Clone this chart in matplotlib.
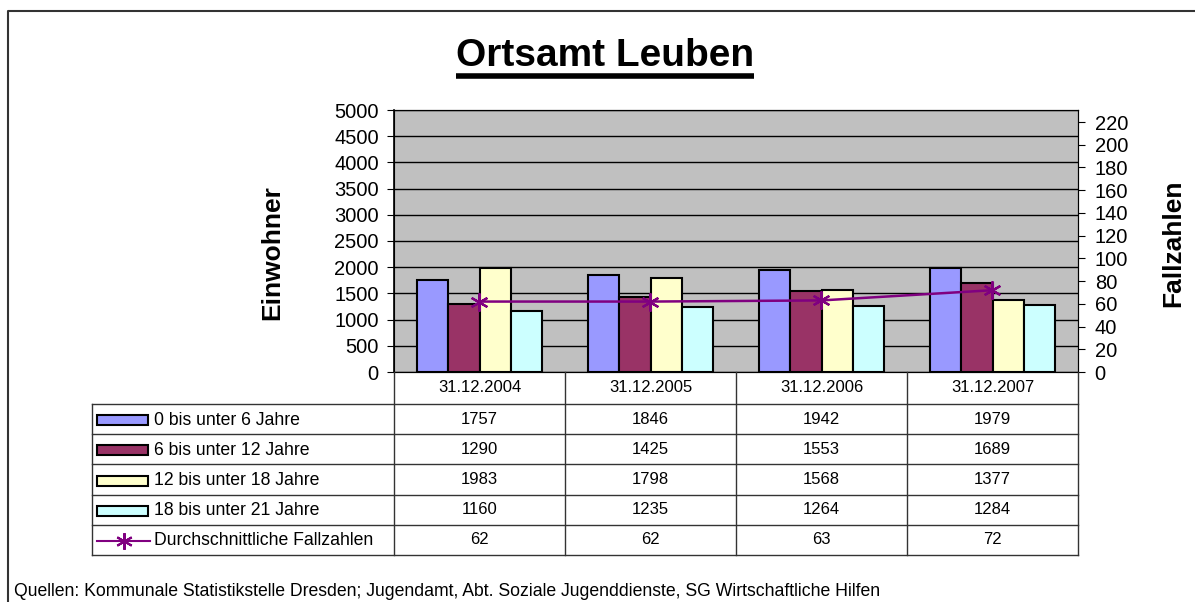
import numpy as np
import matplotlib.pyplot as plt
from matplotlib.patches import Rectangle

plt.rcParams['font.family'] = ['Liberation Sans', 'DejaVu Sans']

# data
stichtage = ['31.12.2004', '31.12.2005', '31.12.2006', '31.12.2007']
gruppen = ['0 bis unter 6 Jahre', '6 bis unter 12 Jahre',
           '12 bis unter 18 Jahre', '18 bis unter 21 Jahre']
ew_0_6 = [1757, 1846, 1942, 1979]
ew_6_12 = [1290, 1425, 1553, 1689]
ew_12_18 = [1983, 1798, 1568, 1377]
ew_18_21 = [1160, 1235, 1264, 1284]
fall_name = 'Durchschnittliche Fallzahlen'
fallzahlen = [62, 62, 63, 72]

farben = ['#9999FF', '#993366', '#FFFFCC', '#CCFFFF']
linie = '#800080'

W, H = 1195, 602
fig = plt.figure(figsize=(W / 100, H / 100), dpi=100)

# plot area in pixels
px0, px1, py0, py1 = 394, 1078, 110, 372
ax = fig.add_axes([px0 / W, 1 - py1 / H, (px1 - px0) / W, (py1 - py0) / H])
ax.set_facecolor('#C0C0C0')

werte = [ew_0_6, ew_6_12, ew_12_18, ew_18_21]
x = np.arange(len(stichtage)) + 0.5
bw = 0.184
for i, (vals, col) in enumerate(zip(werte, farben)):
    ax.bar(x + (i - 1.5) * bw, vals, bw, color=col, edgecolor='black',
           linewidth=1.5, zorder=3)

ax.set_xlim(0, len(stichtage))
ax.set_ylim(0, 5000)
ax.set_yticks(np.arange(0, 5001, 500))
ax.set_xticks([])
ax.yaxis.grid(True, color='black', linewidth=1)
ax.set_axisbelow(True)
ax.tick_params(axis='y', direction='out', length=5, pad=6, labelsize=14.5)
for s in ax.spines.values():
    s.set_color('black')
ax.spines['left'].set_linewidth(1.2)

ax2 = ax.twinx()
ax2.plot(x, fallzahlen, color=linie, linewidth=1.8, marker=(6, 2, 0),
         markersize=13, markeredgewidth=1.6, zorder=5)
ax2.set_ylim(0, 230.6)
ax2.set_yticks(np.arange(0, 221, 20))
ax2.tick_params(axis='y', direction='out', length=5, pad=7, labelsize=14.5)
for s in ax2.spines.values():
    s.set_color('black')

fig.text(272 / W, 1 - 253 / H, 'Einwohner', rotation=90, fontsize=19,
         fontweight='bold', ha='center', va='center')
fig.text(1173 / W, 1 - 243 / H, 'Fallzahlen', rotation=90, fontsize=19,
         fontweight='bold', ha='center', va='center')

# overlay for table, title underline and frame (pixel coords)
tax = fig.add_axes([0, 0, 1, 1])
tax.set_xlim(0, W)
tax.set_ylim(H, 0)
tax.axis('off')
tax.patch.set_alpha(0)

titel = tax.text(605, 56, 'Ortsamt Leuben', fontsize=28, fontweight='bold',
                 ha='center', va='center')
fig.canvas.draw()
bb = titel.get_window_extent().transformed(tax.transData.inverted())
tax.plot([bb.x0, bb.x1], [76, 76], color='black', linewidth=4,
         solid_capstyle='butt')

# table
tl = 92
col_x = np.linspace(px0, px1, len(stichtage) + 1)
row_y = np.linspace(404, 555, 6)
lc = '#333333'
for yy in row_y:
    tax.plot([tl, px1], [yy, yy], color=lc, linewidth=1)
tax.plot([tl, tl], [row_y[0], row_y[-1]], color=lc, linewidth=1)
for xx in col_x:
    tax.plot([xx, xx], [py1, row_y[-1]], color=lc, linewidth=1)

cx = (col_x[:-1] + col_x[1:]) / 2
for c, d in zip(cx, stichtage):
    tax.text(c, 388, d, fontsize=12, ha='center', va='center')

rows = werte + [fallzahlen]
names = gruppen + [fall_name]
for r, (vals, name) in enumerate(zip(rows, names)):
    yc = (row_y[r] + row_y[r + 1]) / 2
    for c, v in zip(cx, vals):
        tax.text(c, yc, str(v), fontsize=12, ha='center', va='center')
    if r < len(farben):
        tax.add_patch(Rectangle((97, yc - 4), 51, 10, facecolor=farben[r],
                                edgecolor='black', linewidth=1.5))
    else:
        tax.plot([97, 150], [yc + 1, yc + 1], color=linie, linewidth=1.5)
        tax.plot([124], [yc + 1], color=linie, marker=(6, 2, 0),
                 markersize=12, markeredgewidth=1.5)
    tax.text(154, yc + 1, name, fontsize=12.7, ha='left', va='center')

tax.text(14, 591, 'Quellen: Kommunale Statistikstelle Dresden; Jugendamt, '
         'Abt. Soziale Jugenddienste, SG Wirtschaftliche Hilfen',
         fontsize=12.7, ha='left', va='center')

# outer frame (only left and top edges visible)
tax.plot([8, 8, W], [H, 11, 11], color='#333333', linewidth=1.5)

fig.savefig('out.png', dpi=100)
